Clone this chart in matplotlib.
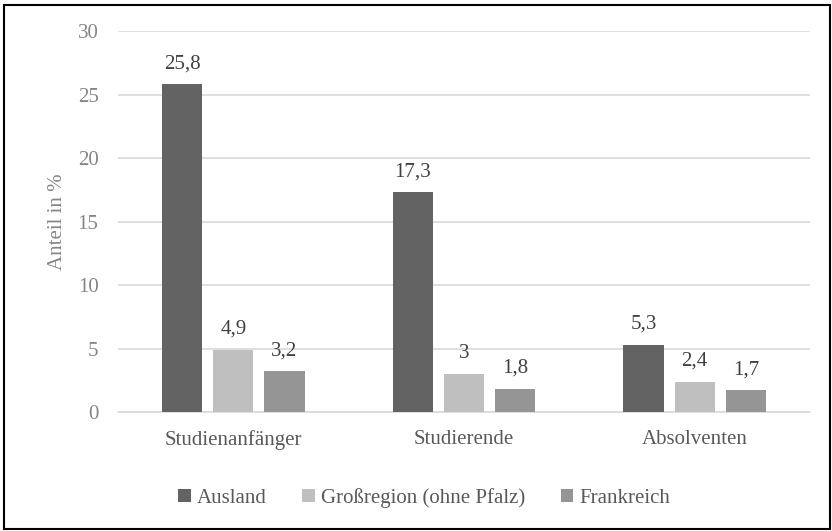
import matplotlib.pyplot as plt
from matplotlib.patches import Rectangle
import numpy as np

plt.rcParams['font.family'] = ['Liberation Serif', 'DejaVu Serif']

categories = ["Studienanfänger", "Studierende", "Absolventen"]
series_names = ["Ausland", "Großregion (ohne Pfalz)", "Frankreich"]
ausland = [25.8, 17.3, 5.3]
grossregion = [4.9, 3.0, 2.4]
frankreich = [3.2, 1.8, 1.7]
value_labels = [["25,8", "17,3", "5,3"], ["4,9", "3", "2,4"], ["3,2", "1,8", "1,7"]]
colors = ["#636363", "#bfbfbf", "#959595"]

fig = plt.figure(figsize=(8.32, 5.31), dpi=100)
ax = fig.add_axes([0.1418, 0.2241, 0.8318, 0.7175])

x = np.arange(len(categories))
width = 0.174
step = 0.222
for i, (vals, name) in enumerate(zip([ausland, grossregion, frankreich], series_names)):
    pos = x + (i - 1) * step
    ax.bar(pos, vals, width, color=colors[i], label=name, zorder=3)
    for px, v, lab in zip(pos, vals, value_labels[i]):
        ax.annotate(lab, (px, v), xytext=(0, 8), textcoords='offset points',
                    ha='center', va='bottom', fontsize=15, color='#404040')

ax.set_xlim(-0.5, 2.5)
ax.set_ylim(0, 30)
ax.set_yticks(range(0, 31, 5))
ax.set_xticks(x)
ax.set_xticklabels(categories)
ax.grid(axis='y', color='#d9d9d9', linewidth=1.2, zorder=0)
for s in ['top', 'right', 'left']:
    ax.spines[s].set_visible(False)
ax.spines['bottom'].set_color('#d9d9d9')
ax.spines['bottom'].set_linewidth(1.2)
ax.tick_params(axis='both', length=0, labelsize=15, labelcolor='#858585')
ax.tick_params(axis='x', pad=13, labelcolor='#595959')
ax.tick_params(axis='y', pad=14)
ax.set_ylabel("Anteil in %", fontsize=15, color='#858585', labelpad=8)

fig.legend(loc='center', bbox_to_anchor=(0.51, 0.062), ncol=3, frameon=False,
           fontsize=15, handlelength=0.6, handleheight=0.6, handletextpad=0.3,
           columnspacing=1.7, labelcolor='#595959')

fig.patches.append(Rectangle((4 / 832, 2 / 531), 826 / 832, 524 / 531,
                             transform=fig.transFigure, fill=False,
                             edgecolor='#000000', linewidth=1.5))

plt.savefig("out.png", dpi=100)
